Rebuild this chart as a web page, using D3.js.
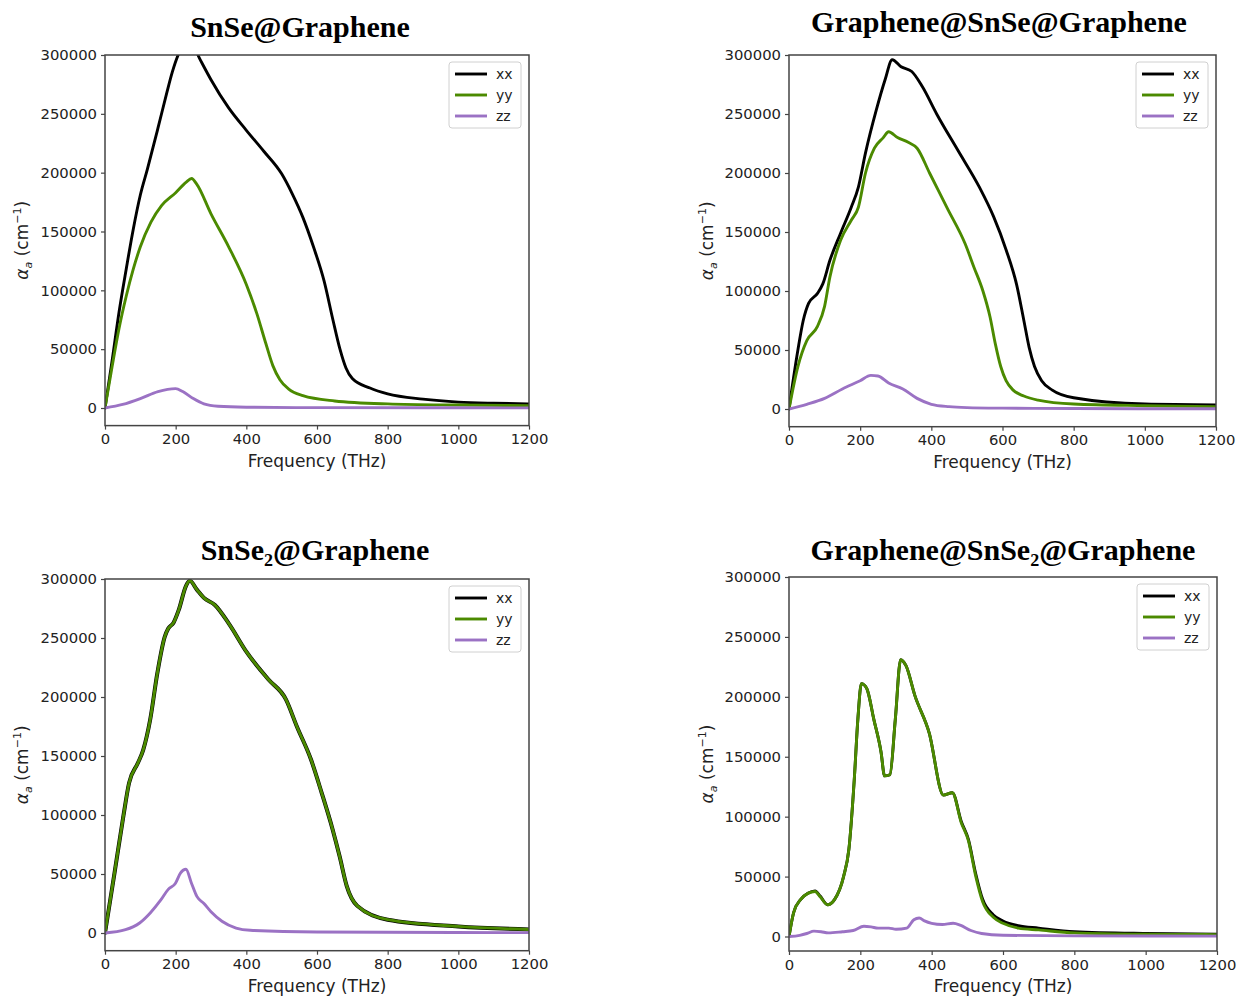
<!DOCTYPE html>
<html>
<head>
<meta charset="utf-8">
<script src="https://cdn.jsdelivr.net/npm/d3@7"></script>
<style>
  html, body { margin: 0; padding: 0; background: #fff; }
  svg { display: block; }
</style>
</head>
<body>
<svg id="chart" width="1237" height="998"></svg>
<script>
// ---------------- DATA ----------------
const seriesNames = ["xx", "yy", "zz"];
const xTicks = [0, 200, 400, 600, 800, 1000, 1200];
const yTicks = [0, 50000, 100000, 150000, 200000, 250000, 300000];
const panelTitles = ["SnSe@Graphene", "Graphene@SnSe@Graphene", "SnSe\u2082@Graphene", "Graphene@SnSe\u2082@Graphene"];

// Panel 1: SnSe@Graphene  [frequency THz, alpha cm^-1]
const p1_xx = [[0,0],[20,40000],[40,82000],[60,118000],[80,152000],[100,181000],[120,203000],[150,238000],[175,268000],[190,285000],[207,300000],[230,312000],[250,310000],[263,300000],[280,290000],[300,279000],[350,255000],[400,236000],[450,218000],[500,199000],[530,182000],[560,162000],[590,137000],[620,108000],[645,75000],[665,50000],[682,34000],[700,25000],[750,17000],[800,12000],[900,7500],[1000,5000],[1100,4000],[1200,3500]];
const p1_yy = [[0,0],[20,35000],[40,68000],[60,95000],[80,118000],[100,137000],[130,158000],[160,172000],[200,183000],[230,192000],[245,195000],[260,190000],[300,165000],[350,137000],[400,105000],[430,80000],[455,55000],[475,36000],[495,24000],[520,16000],[560,10500],[650,6000],[800,3500],[1000,2500],[1200,2000]];
const p1_zz = [[0,0],[50,3000],[100,8000],[150,14000],[200,16500],[220,14000],[250,8000],[280,3500],[320,1500],[400,700],[600,300],[1200,100]];

// Panel 2: Graphene@SnSe@Graphene
const p2_xx = [[0,0],[25,50000],[40,75000],[55,89500],[80,98000],[95,106000],[115,126000],[145,149000],[175,171000],[195,188000],[215,217000],[245,253000],[270,279000],[290,296000],[315,290000],[345,286000],[375,273000],[415,250000],[475,219000],[535,188000],[575,163000],[610,135000],[640,105000],[660,75000],[675,52000],[690,36000],[710,24000],[740,16000],[800,9500],[1000,4200],[1200,3500]];
const p2_yy = [[0,0],[25,36000],[50,58000],[80,70000],[100,87000],[115,112000],[145,143000],[175,160000],[195,171000],[215,200000],[240,221000],[265,230000],[280,235000],[305,230000],[335,226000],[360,221000],[395,200000],[445,170000],[495,140000],[520,120000],[545,100000],[565,78000],[580,55000],[595,36000],[610,24000],[630,16000],[660,11000],[700,7500],[800,4200],[1000,2800],[1200,2000]];
const p2_zz = [[0,0],[50,4000],[100,9000],[150,17000],[200,24000],[230,28500],[250,28000],[280,22000],[320,17000],[360,9000],[400,4000],[450,2000],[500,1200],[600,700],[800,400],[1200,200]];

// Panel 3: SnSe2@Graphene (xx and yy coincide)
const p3_xx = [[0,0],[27,51000],[52,99000],[68,127000],[93,144000],[108,155000],[128,181000],[148,220000],[169,251000],[179,258000],[194,263000],[209,274000],[229,294000],[240,298500],[260,291000],[280,284000],[311,278000],[351,262000],[401,238000],[462,215000],[512,198000],[543,175000],[583,147000],[613,119000],[644,88000],[664,65000],[684,40000],[714,23000],[800,11300],[1000,5600],[1200,3000]];
const p3_yy = [[0,0],[27,51000],[52,99000],[68,127000],[93,144000],[108,155000],[128,181000],[148,220000],[169,251000],[179,258000],[194,263000],[209,274000],[229,294000],[240,298500],[260,291000],[280,284000],[311,278000],[351,262000],[401,238000],[462,215000],[512,198000],[543,175000],[583,147000],[613,119000],[644,88000],[664,65000],[684,40000],[714,23000],[800,11300],[1000,5600],[1200,3000]];
const p3_zz = [[0,0],[58,2800],[98,8500],[128,17000],[158,28000],[179,37000],[199,42000],[214,51000],[229,54000],[245,42000],[260,31000],[280,25000],[300,18000],[331,10000],[371,4200],[411,2300],[600,900],[1200,300]];

// Panel 4: Graphene@SnSe2@Graphene
const p4_xx = [[0,0],[13,20000],[33,31000],[53,36000],[73,38000],[88,33500],[108,26500],[128,31000],[153,50000],[168,73000],[183,131000],[193,181000],[203,211000],[218,207000],[238,181000],[258,154000],[268,134000],[283,135000],[298,181000],[313,231000],[328,226000],[353,201000],[393,170000],[433,118000],[458,120000],[483,96000],[503,81000],[523,53000],[543,31000],[573,18000],[600,13000],[643,9000],[700,7000],[800,4000],[1000,2500],[1200,2000]];
const p4_yy = [[0,0],[13,20000],[33,31000],[53,36000],[73,37500],[88,33000],[108,26500],[128,31000],[153,50000],[168,73000],[183,131000],[193,181000],[203,211000],[218,207000],[238,181000],[258,154000],[268,134000],[283,135000],[298,181000],[313,231000],[328,226000],[353,201000],[393,170000],[433,118000],[458,120000],[483,95000],[503,80000],[523,51000],[543,29000],[573,16000],[600,11000],[643,7000],[700,5500],[800,3000],[1000,1900],[1200,1600]];
const p4_zz = [[0,0],[30,1000],[50,2500],[70,4500],[90,4000],[110,3000],[150,4000],[180,5000],[210,8500],[230,8000],[250,7000],[280,7000],[300,6000],[330,7000],[350,14000],[365,15500],[380,13000],[400,11000],[430,10000],[460,11000],[480,9500],[510,5000],[540,2500],[600,1000],[800,500],[1200,300]];

const panelData = [
  [p1_xx, p1_yy, p1_zz],
  [p2_xx, p2_yy, p2_zz],
  [p3_xx, p3_yy, p3_zz],
  [p4_xx, p4_yy, p4_zz]
];

// ---------------- STYLE / LAYOUT ----------------
const colors = { xx: "#000000", yy: "#4b8a00", zz: "#9b72c4" };
const layout = [
  { left: 105, right: 529, top: 55, zero: 408, bottom: 425.6, titleX: 300, titleY: 37, ylabX: 22 },
  { left: 789, right: 1216, top: 55, zero: 409, bottom: 426.7, titleX: 999, titleY: 32, ylabX: 707 },
  { left: 105, right: 529, top: 579, zero: 933, bottom: 950.7, titleX: 315, titleY: 560, ylabX: 22 },
  { left: 789, right: 1217, top: 577, zero: 936.5, bottom: 951, titleX: 1003, titleY: 560, ylabX: 707 }
];

const svg = d3.select("#chart");
const axisColor = "#444";
const textColor = "#222";
const sans = "'DejaVu Sans', sans-serif";

layout.forEach((L, i) => {
  const x = d3.scaleLinear().domain([0, 1200]).range([L.left, L.right]);
  const y = d3.scaleLinear().domain([0, 300000]).range([L.zero, L.top]);
  const bottom = L.bottom;

  const g = svg.append("g");

  // clip
  const clipId = "clip" + i;
  svg.append("clipPath").attr("id", clipId).append("rect")
    .attr("x", L.left).attr("y", L.top).attr("width", L.right - L.left).attr("height", bottom - L.top);

  // lines
  const line = d3.line().x(d => x(d[0])).y(d => y(d[1])).curve(d3.curveMonotoneX);
  const lg = g.append("g").attr("clip-path", `url(#${clipId})`);
  panelData[i].forEach((ser, k) => {
    const name = seriesNames[k];
    lg.append("path")
      .datum(ser)
      .attr("fill", "none")
      .attr("stroke", colors[name])
      .attr("stroke-width", (i === 2 && name === "xx") ? 4 : 2.9)
      .attr("stroke-linejoin", "round")
      .attr("stroke-linecap", "round")
      .attr("d", line);
  });

  // axes
  const xAxis = d3.axisBottom(x).tickValues(xTicks).tickSize(4).tickPadding(4).tickFormat(d3.format("d"));
  const yAxis = d3.axisLeft(y).tickValues(yTicks).tickSize(4).tickPadding(4).tickFormat(d3.format("d"));
  const gx = g.append("g").attr("transform", `translate(0,${bottom})`).call(xAxis);
  const gy = g.append("g").attr("transform", `translate(${L.left},0)`).call(yAxis);
  [gx, gy].forEach(a => {
    a.select(".domain").remove();
    a.selectAll(".tick line").attr("stroke", axisColor).attr("stroke-width", 1.2);
    a.selectAll(".tick text").attr("fill", textColor)
      .style("font-family", sans).style("font-size", "14.8px");
  });

  // frame
  g.append("rect")
    .attr("x", L.left).attr("y", L.top)
    .attr("width", L.right - L.left).attr("height", bottom - L.top)
    .attr("fill", "none").attr("stroke", axisColor).attr("stroke-width", 1.5);

  // x label
  g.append("text")
    .attr("x", (L.left + L.right) / 2).attr("y", bottom + 41)
    .attr("text-anchor", "middle")
    .attr("fill", textColor)
    .style("font-family", sans).style("font-size", "17px")
    .text("Frequency (THz)");

  // y label
  const yl = g.append("text")
    .attr("transform", `translate(${L.ylabX + 6},${(L.top + bottom) / 2})`  + " rotate(-90)")
    .attr("text-anchor", "middle")
    .attr("fill", textColor)
    .style("font-family", sans).style("font-size", "17px");
  yl.append("tspan").style("font-style", "italic").text("\u03b1");
  yl.append("tspan").attr("dy", 4).style("font-size", "11px").style("font-style", "italic").text("a");
  yl.append("tspan").attr("dy", -4).text(" (cm");
  yl.append("tspan").attr("dy", -7).style("font-size", "11px").text("\u22121");
  yl.append("tspan").attr("dy", 7).text(")");

  // title
  g.append("text")
    .attr("x", L.titleX).attr("y", L.titleY)
    .attr("text-anchor", "middle")
    .attr("fill", "#000")
    .style("font-family", "'Liberation Serif', 'Times New Roman', serif")
    .style("font-weight", "bold").style("font-size", "30px")
    .text(panelTitles[i]);

  // legend
  const lgW = 72, lgH = 66;
  const lx = L.right - 8 - lgW, ly = L.top + 7;
  const leg = g.append("g");
  leg.append("rect").attr("x", lx).attr("y", ly).attr("width", lgW).attr("height", lgH)
    .attr("rx", 3).attr("fill", "#fff").attr("fill-opacity", 0.85)
    .attr("stroke", "#d0d0d0").attr("stroke-width", 1);
  seriesNames.forEach((name, k) => {
    const yy = ly + 12 + k * 21;
    leg.append("line").attr("x1", lx + 6).attr("x2", lx + 38).attr("y1", yy).attr("y2", yy)
      .attr("stroke", colors[name]).attr("stroke-width", 2.9);
    leg.append("text").attr("x", lx + 47).attr("y", yy + 5)
      .attr("fill", textColor)
      .style("font-family", sans).style("font-size", "14px")
      .text(name);
  });
});
</script>
</body>
</html>
